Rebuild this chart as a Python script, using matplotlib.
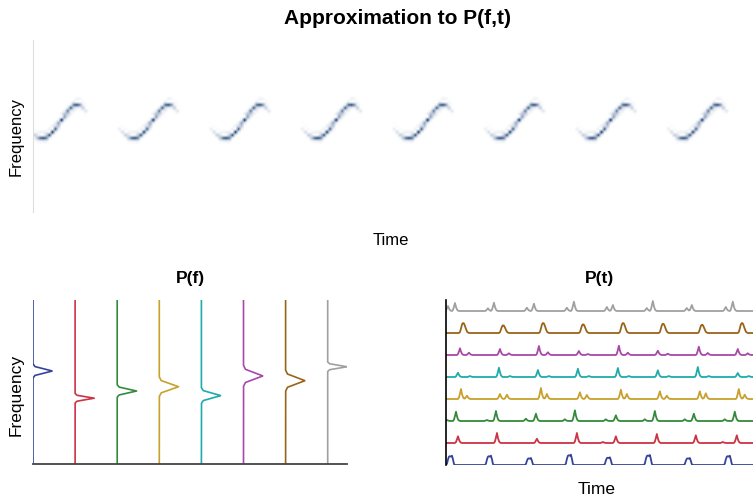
import numpy as np
import matplotlib.pyplot as plt
from matplotlib.colors import LinearSegmentedColormap

plt.rcParams['font.family'] = ['Liberation Sans', 'DejaVu Sans']

colors = ['#34449c', '#cc3344', '#348a3a', '#c8a02c', '#1fabab',
          '#a848a8', '#98641a', '#a0a0a0']

# --- top panel: one period of the S-shaped ridge (row position, level) ---
cols_per_period = 30
n_periods = 8
n_rows = 57
s_rows = [27.0, 26.0, 25.0, 24.3, 24.0, 24.0, 24.3, 25.0, 26.0, 27.2,
          28.6, 30.0, 31.4, 32.7, 33.9, 34.8, 35.0, 35.0, 34.2, 33.0]
s_level = [0.1, 0.2, 0.3, 0.5, 0.75, 0.85, 0.95, 0.85, 0.95, 1.0,
           0.85, 1.0, 0.9, 1.0, 0.9, 0.9, 0.85, 0.6, 0.35, 0.15]
t_start = -0.07

# --- P(f): bump centre (0..1), half width, for each series ---
pf_center = [0.567, 0.401, 0.445, 0.471, 0.417, 0.537, 0.508, 0.593]
pf_width = [0.027, 0.018, 0.024, 0.037, 0.030, 0.040, 0.040, 0.018]
pf_amp = 0.46
bump_off = [-1.6, -1.0, -0.5, 0.0, 0.5, 1.0, 1.6]
bump_val = [0.0, 0.1, 0.55, 1.0, 0.55, 0.1, 0.0]

# --- P(t): peak times and heights for each series ---
pt_times = [
    [0.14, 1.13, 2.13, 3.13, 4.10, 5.10, 6.10, 7.10],
    [0.31, 1.28, 2.27, 3.27, 3.93, 4.25, 5.27, 6.24, 6.93, 7.27],
    [0.03, 0.25, 1.02, 1.24, 2.00, 2.25, 2.98, 3.23,
     4.00, 4.24, 4.98, 5.23, 5.98, 6.21, 6.98, 7.23],
    [0.375, 0.52, 1.35, 1.53, 2.37, 2.52, 3.35, 3.53,
     4.37, 4.52, 5.35, 5.52, 6.35, 6.50, 7.33, 7.48],
    [0.31, 0.60, 1.33, 1.60, 2.29, 2.58, 3.31, 3.58,
     4.29, 4.57, 5.31, 5.58, 6.29, 6.57, 7.29, 7.57],
    [0.35, 0.58, 1.35, 1.58, 2.33, 2.56, 3.33, 3.56,
     4.33, 4.54, 5.31, 5.54, 6.33, 6.56, 7.31, 7.54],
    [0.43, 1.43, 2.43, 3.43, 4.43, 5.42, 6.41, 7.39],
    [0.06, 0.225, 1.04, 1.20, 2.03, 2.21, 3.02, 3.20,
     4.03, 4.18, 5.02, 5.18, 6.02, 6.16, 7.00, 7.17],
]
pt_heights = [
    [9.3, 9.3, 7.0, 10.3, 7.7, 10.0, 7.0, 9.3],
    [6.7, 10.0, 4.3, 10.0, 1.0, 6.7, 9.0, 7.7, 1.0, 7.7],
    [1.0, 9.3, 1.0, 10.0, 2.3, 7.3, 1.7, 10.7,
     1.7, 5.7, 1.7, 10.0, 1.7, 7.3, 1.7, 9.3],
    [10.0, 3.3, 5.0, 4.3, 11.0, 5.0, 6.7, 4.0,
     9.3, 5.0, 7.7, 3.3, 7.7, 5.7, 10.0, 4.3],
    [4.3, 1.0, 9.3, 1.0, 7.0, 1.0, 8.3, 1.0,
     9.0, 1.0, 6.7, 1.0, 10.0, 1.0, 4.0, 1.0],
    [6.7, 2.3, 6.0, 1.7, 9.0, 2.7, 4.0, 1.0,
     9.3, 2.3, 4.3, 1.3, 8.3, 2.0, 6.0, 1.7],
    [10.0, 7.7, 10.0, 8.7, 10.0, 9.3, 8.3, 10.0],
    [5.0, 8.0, 2.7, 8.3, 3.3, 7.3, 3.3, 9.3,
     4.0, 6.0, 3.0, 10.0, 3.0, 6.0, 4.0, 9.3],
]
sharp_kernel = [0.15, 0.55, 1.0, 0.5, 0.18, 0.05]
blue_kernel = [0.15, 0.6, 0.9, 0.95, 0.9, 1.0, 0.6, 0.1]
brown_kernel = [0.1, 0.45, 0.85, 1.0, 0.95, 0.7, 0.4, 0.15, 0.05]
kernels = [blue_kernel] + [sharp_kernel] * 5 + [brown_kernel, sharp_kernel]
trace_gap = 22.0
t_max = 7.68
dt = 0.025

fig = plt.figure(figsize=(7.53, 4.99), dpi=100)

# ---------------- top: approximation to P(f,t) ----------------
img = np.zeros((n_rows, cols_per_period * n_periods))
for p in range(n_periods):
    for c, (r, lev) in enumerate(zip(s_rows, s_level)):
        col = p * cols_per_period + c
        r0 = int(np.floor(r))
        frac = r - r0
        img[r0, col] += lev * (1 - frac)
        img[r0 + 1, col] += lev * frac
        img[r0 - 1, col] += lev * 0.1
        img[r0 + 2, col] += lev * 0.1

cmap = LinearSegmentedColormap.from_list('ridge', ['#ffffff', '#9fb0c8', '#22406a'])
ax0 = fig.add_axes([33 / 753, 1 - 212 / 499, 720 / 753, 172 / 499])
ax0.imshow(img, origin='lower', aspect='auto', cmap=cmap,
           vmin=0, vmax=0.9, interpolation='bilinear',
           extent=[t_start, t_start + n_periods, 0, n_rows])
ax0.set_xlim(0, 720 / 91.5)
ax0.set_ylim(0, n_rows)
ax0.set_xticks([])
ax0.set_yticks([])
for s in ['top', 'right', 'bottom']:
    ax0.spines[s].set_visible(False)
ax0.spines['left'].set_color('#dddddd')
ax0.set_xlabel('Time', fontsize=12)
ax0.set_ylabel('Frequency', fontsize=12)
ax0.xaxis.set_label_coords(0.497, -0.12)
ax0.yaxis.set_label_coords(-0.013, 0.44)
fig.text(397 / 753, 1 - 19 / 499, 'Approximation to P(f,t)',
         ha='center', va='center', fontsize=15, fontweight='bold')

# ---------------- bottom left: P(f) ----------------
ax1 = fig.add_axes([33 / 753, 1 - 464 / 499, 314 / 753, 164 / 499])
f = np.linspace(0, 1, 801)
for i in range(8):
    offs = pf_center[i] + np.array(bump_off) * pf_width[i]
    shape = np.interp(f, offs, bump_val, left=0, right=0)
    ax1.plot(i + pf_amp * shape, f, color=colors[i], lw=1.2)
ax1.set_xlim(0, 314 / 42.1)
ax1.set_ylim(0, 1)
ax1.set_xticks([])
ax1.set_yticks([])
for s in ['top', 'right', 'left']:
    ax1.spines[s].set_visible(False)
ax1.spines['bottom'].set_color('#444444')
ax1.spines['bottom'].set_linewidth(1.3)
ax1.set_title('P(f)', fontsize=12.5, fontweight='bold', pad=12)
ax1.set_ylabel('Frequency', fontsize=12.5)
ax1.yaxis.set_label_coords(-0.029, 0.42)

# ---------------- bottom right: P(t) ----------------
ax2 = fig.add_axes([446 / 753, 1 - 465 / 499, 307 / 753, 165 / 499])
t = np.arange(0, t_max + dt, dt)
for i in range(8):
    y = np.zeros_like(t)
    k = np.array(kernels[i])
    kc = int(np.argmax(k))
    for tp, h in zip(pt_times[i], pt_heights[i]):
        idx = int(round(tp / dt)) - kc
        for j, kv in enumerate(k):
            if 0 <= idx + j < len(t):
                y[idx + j] = max(y[idx + j], h * kv)
    ax2.plot(t, y + i * trace_gap, color=colors[i], lw=1.3)
ax2.set_xlim(0, t_max)
ax2.set_ylim(0, 165)
ax2.set_xticks([])
ax2.set_yticks([])
for s in ['top', 'right', 'bottom']:
    ax2.spines[s].set_visible(False)
ax2.spines['left'].set_color('black')
ax2.spines['left'].set_linewidth(1.2)
ax2.set_title('P(t)', fontsize=12.5, fontweight='bold', pad=12)
ax2.set_xlabel('Time', fontsize=12.5)
ax2.xaxis.set_label_coords(0.492, -0.105)

fig.savefig('out.png', dpi=100)
